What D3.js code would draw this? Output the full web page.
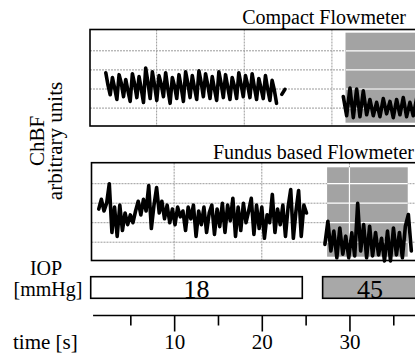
<!DOCTYPE html>
<html><head><meta charset="utf-8">
<script src="https://cdn.jsdelivr.net/npm/d3@7"></script>
<style>
html,body{margin:0;padding:0;background:#fff;}
svg{display:block;}
svg text{font-family:"Liberation Serif","DejaVu Serif",serif;fill:#000;}
</style></head>
<body><svg id="c" width="415" height="354"></svg>
<script>
// ---------- data ----------
const panelTitles = ["Compact Flowmeter", "Fundus based Flowmeter"];
const timeTicks = [5, 10, 15, 20, 25, 30, 35];
const timeLabels = [10, 20, 30];
const yGrid = [1, 2, 3, 4];
const compactGridTimes = [8, 18, 28, 38];
const fundusGridTimes = [10, 20, 30, 40];
const iopLabels = ["18", "45"];
const iopPeriods = [[0.48, 24.62], [26.94, 45]];
const compactShade = [29.55, 45];
const fundusShade = [27.45, 36.65];

// Compact flowmeter, IOP 18 (start 2.2 s, every 0.253 s: peak, notch, trough per beat)
const compactBase = [
  2.85, 2.2, 1.7,  2.6, 2.05, 1.45,  2.75, 2.3, 1.6,  2.5, 1.9, 1.35,  2.8, 2.25, 1.55,
  2.65, 2.0, 1.3,  3.1, 2.35, 1.5,  2.9, 2.2, 1.4,  2.7, 2.25, 1.6,  2.85, 2.0, 1.25,
  2.6, 2.15, 1.5,  2.75, 2.1, 1.35,  2.9, 2.3, 1.55,  2.7, 2.05, 1.45,  2.95, 2.35, 1.6,
  2.8, 2.2, 1.5,  2.65, 2.0, 1.4,  2.9, 2.3, 1.55,  2.75, 2.1, 1.45,  2.6, 2.15, 1.5,
  2.85, 2.25, 1.6,  2.7, 2.2, 1.55,  2.8, 2.1, 1.45,  2.55, 2.05, 1.5,  2.7, 2.0, 1.4,
  2.45, 1.95, 1.25];
const compactBaseT0 = 2.2, compactBaseDt = 0.253;
const compactTickT = [22.28, 22.64];
const compactTickV = [1.72, 1.98];
// Compact flowmeter, IOP 45 (start 29.3 s, every 0.38 s)
const compactHigh = [1.6, 0.6, 2.05, 0.5, 2.0, 0.55, 1.9, 0.65, 1.45, 0.6, 1.3, 0.55, 1.5, 0.7, 1.35, 0.5,
  1.45, 0.65, 1.55, 0.55, 1.3, 0.6, 1.5];
const compactHighT0 = 29.3, compactHighDt = 0.38;

// Fundus flowmeter, IOP 18 (start 1.4 s, every 0.3 s)
const fundusBase = [2.7, 3.2, 2.6, 3.0, 4.0, 1.5, 2.8, 1.3, 2.9, 1.6, 2.5, 1.9, 2.4, 2.0, 2.6, 3.1,
  2.4, 3.2, 2.6, 3.9, 1.7, 2.9, 3.8, 2.5, 3.1, 2.2, 2.9, 2.0, 2.7, 1.9, 2.8, 2.3, 2.6, 1.6, 2.8, 2.2,
  2.9, 1.3, 2.6, 1.9, 2.8, 1.5, 2.5, 2.9, 1.4, 2.7, 1.8, 3.0, 1.5, 2.9, 2.1, 3.25, 1.3, 2.8, 1.6, 3.0,
  2.0, 2.6, 3.25, 1.4, 2.9, 1.7, 2.8, 1.2, 2.4, 2.0, 3.45, 1.5, 2.7, 1.9, 2.9, 1.3, 2.8, 3.7, 1.2, 2.6,
  3.65, 1.3, 2.9, 2.5];
const fundusBaseT0 = 1.4, fundusBaseDt = 0.3;
// Fundus flowmeter, IOP 45 (start 27.2 s, every 0.34 s)
const fundusHigh = [0.89, 2.07, 0.55, 1.57, 0.2, 1.73, 0.39, 1.31, 0.2, 1.48, 0.3, 3.0, 0.55, 1.9, 0.2,
  1.82, 0.3, 1.5, 0.35, 1.2, 0.04, 1.57, 0.04, 1.73, 0.35, 1.5, 0.2, 1.82, 2.42, 0.55];
const fundusHighT0 = 27.2, fundusHighDt = 0.34;

// ---------- drawing ----------
const FONT = "'Liberation Serif', 'DejaVu Serif', serif";
const svg = d3.select("#c");
const x = d3.scaleLinear().domain([0, 40]).range([86.5, 437.1]);
const y1 = d3.scaleLinear().domain([0, 5]).range([127.2, 31.7]);
const y2 = d3.scaleLinear().domain([0, 5]).range([261.7, 164.2]);

function toPts(vals, t0, dt) { return vals.map((v, i) => [t0 + i * dt, v]); }
function txt(sel) { return sel.attr("font-family", FONT).attr("fill", "#000"); }

function panel(y, top, bottom, left, gridTimes, shade, shadeTop, shadeBot, series, title, titleX, titleY) {
  const g = svg.append("g");
  const right = 440;
  g.selectAll(".hg").data(yGrid).join("line")
    .attr("x1", left).attr("x2", right).attr("y1", d => y(d)).attr("y2", d => y(d))
    .attr("stroke", "#9a9a9a").attr("stroke-width", 1).attr("stroke-dasharray", "2,1");
  g.selectAll(".vg").data(gridTimes).join("line")
    .attr("x1", d => x(d)).attr("x2", d => x(d)).attr("y1", top).attr("y2", bottom)
    .attr("stroke", "#9a9a9a").attr("stroke-width", 1).attr("stroke-dasharray", "2,1");
  const sx0 = x(shade[0]), sx1 = Math.min(x(shade[1]), right);
  g.append("rect").attr("x", sx0).attr("y", shadeTop).attr("width", sx1 - sx0).attr("height", shadeBot - shadeTop)
    .attr("fill", "#a3a3a3");
  g.selectAll(".hw").data(yGrid).join("line")
    .attr("x1", sx0).attr("x2", sx1).attr("y1", d => y(d)).attr("y2", d => y(d))
    .attr("stroke", "#fff").attr("stroke-width", 1.2);
  g.selectAll(".vw").data(gridTimes.filter(t => x(t) > sx0 && x(t) < sx1)).join("line")
    .attr("x1", d => x(d)).attr("x2", d => x(d)).attr("y1", shadeTop).attr("y2", shadeBot)
    .attr("stroke", "#fff").attr("stroke-width", 1.2);
  g.append("rect").attr("x", left).attr("y", top).attr("width", right - left).attr("height", bottom - top)
    .attr("fill", "none").attr("stroke", "#000").attr("stroke-width", 1.6);
  const line = d3.line().x(d => x(d[0])).y(d => y(d[1]));
  series.forEach(s => {
    g.append("path").attr("d", line(s)).attr("fill", "none").attr("stroke", "#000")
      .attr("stroke-width", 3.6).attr("stroke-linejoin", "round").attr("stroke-linecap", "round");
  });
  txt(svg.append("text")).attr("x", titleX).attr("y", titleY).attr("text-anchor", "end")
    .attr("font-size", 20).text(title);
}

panel(y1, 29.5, 126, 90, compactGridTimes, compactShade, 32.7, 122.7, [
  toPts(compactBase, compactBaseT0, compactBaseDt),
  compactTickT.map((t, i) => [t, compactTickV[i]]),
  toPts(compactHigh, compactHighT0, compactHighDt)
], panelTitles[0], 406, 24);

panel(y2, 162.7, 260.5, 91.5, fundusGridTimes, fundusShade, 167.3, 256.7, [
  toPts(fundusBase, fundusBaseT0, fundusBaseDt),
  toPts(fundusHigh, fundusHighT0, fundusHighDt)
], panelTitles[1], 414, 159);

// y label
txt(svg.append("text")).attr("transform", "translate(44,141) rotate(-90)").attr("text-anchor", "middle")
  .attr("font-size", 21).text("ChBF");
txt(svg.append("text")).attr("transform", "translate(62,141) rotate(-90)").attr("text-anchor", "middle")
  .attr("font-size", 21).text("arbitrary units");

// IOP boxes
txt(svg.append("text")).attr("x", 46).attr("y", 275).attr("text-anchor", "middle").attr("font-size", 20).text("IOP");
txt(svg.append("text")).attr("x", 48).attr("y", 296).attr("text-anchor", "middle").attr("font-size", 20).text("[mmHg]");
const iop = svg.append("g");
iop.selectAll("rect").data(iopPeriods).join("rect")
  .attr("x", d => x(d[0])).attr("y", 276.7).attr("width", d => Math.min(x(d[1]), 440) - x(d[0])).attr("height", 21.6)
  .attr("fill", (d, i) => i === 0 ? "#fff" : "#a8a8a8").attr("stroke", "#000").attr("stroke-width", 1.6);
txt(iop.selectAll("text").data(iopLabels).join("text"))
  .attr("x", (d, i) => i === 0 ? x((iopPeriods[0][0] + iopPeriods[0][1]) / 2) : 370)
  .attr("y", 298).attr("text-anchor", "middle").attr("font-size", 26).text(d => d);

// time axis
const axisY = 315.5;
svg.append("line").attr("x1", x(0.75)).attr("x2", 415).attr("y1", axisY).attr("y2", axisY)
  .attr("stroke", "#000").attr("stroke-width", 1.6);
const ax = svg.append("g").attr("transform", `translate(0,${axisY})`);
ax.call(d3.axisBottom(x).tickValues(timeTicks.filter(t => timeLabels.indexOf(t) < 0)).tickSize(10).tickFormat(""));
const ax2 = svg.append("g").attr("transform", `translate(0,${axisY})`);
ax2.call(d3.axisBottom(x).tickValues(timeLabels).tickSize(16).tickPadding(3).tickFormat(d3.format("d")));
[ax, ax2].forEach(a => {
  a.attr("font-family", FONT).attr("font-size", 21);
  a.select(".domain").remove();
  a.selectAll(".tick line").attr("stroke", "#000").attr("stroke-width", 1.6);
  a.selectAll(".tick text").attr("font-size", 21).attr("font-family", FONT).attr("fill", "#000");
});
txt(svg.append("text")).attr("x", 13).attr("y", 349).attr("font-size", 21).text("time [s]");
</script></body></html>
